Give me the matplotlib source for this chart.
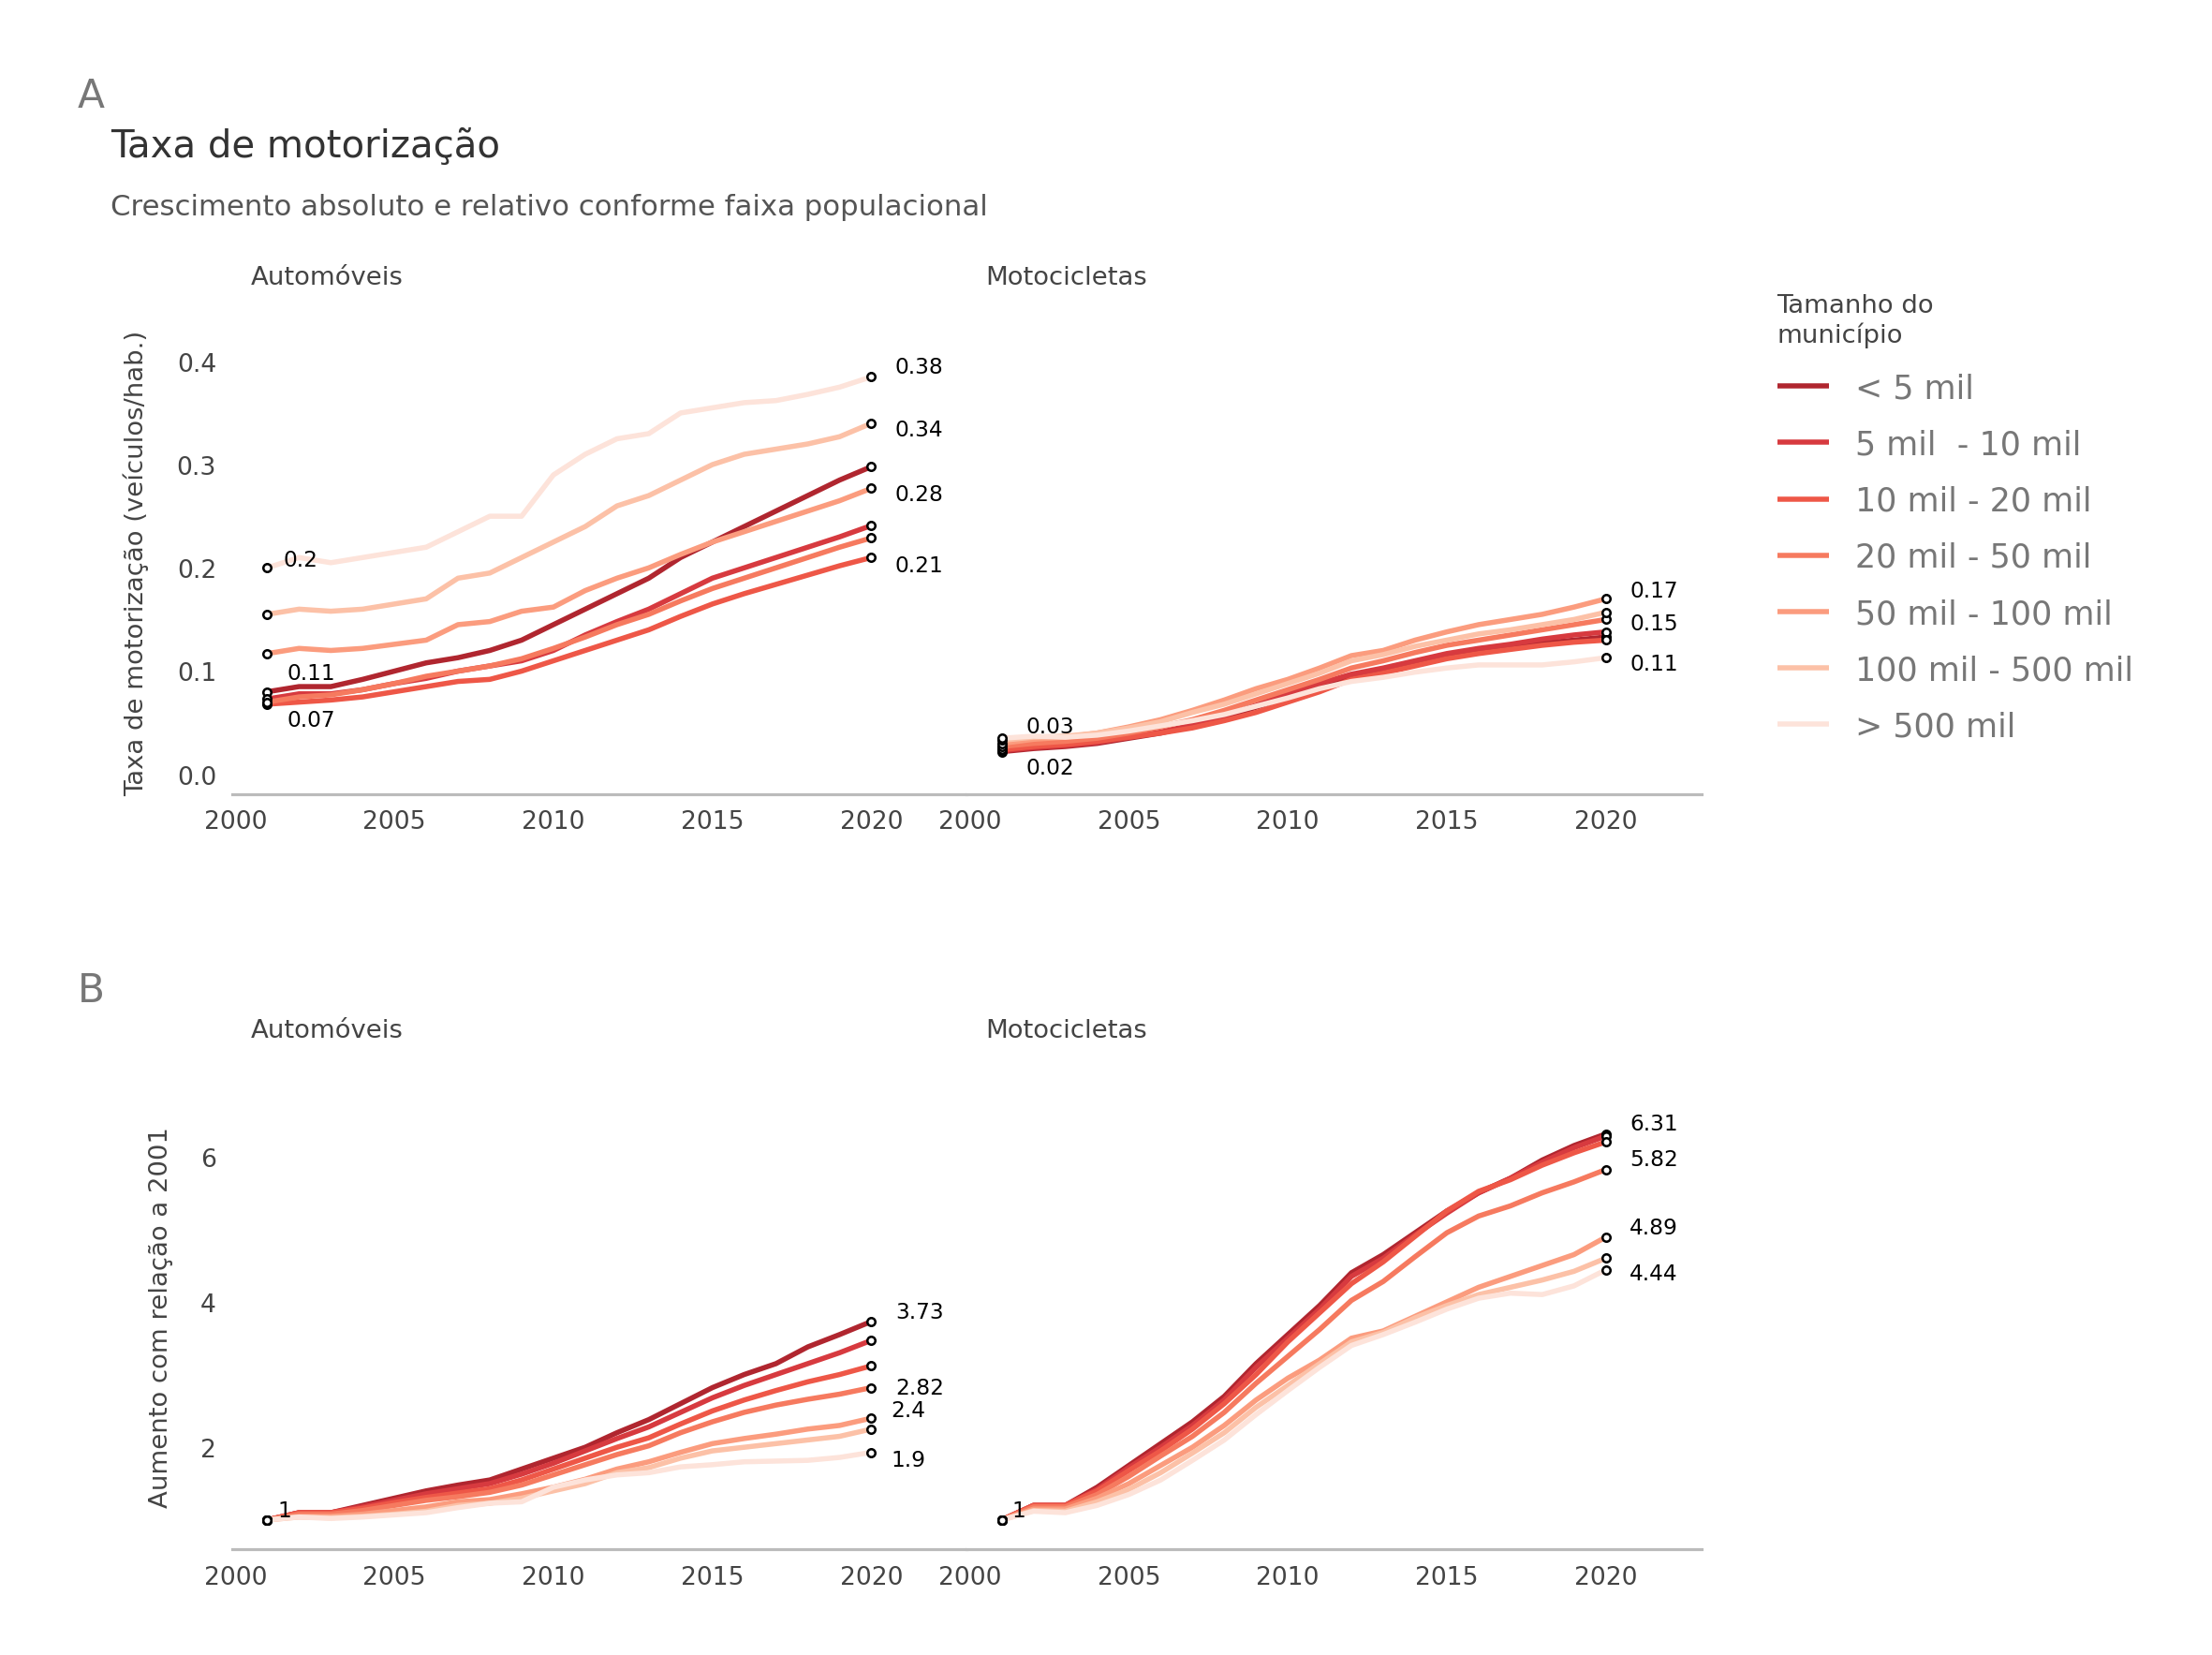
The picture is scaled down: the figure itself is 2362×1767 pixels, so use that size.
import matplotlib.pyplot as plt

years = list(range(2001, 2021))
groups = ["< 5 mil", "5 mil  - 10 mil", "10 mil - 20 mil", "20 mil - 50 mil",
          "50 mil - 100 mil", "100 mil - 500 mil", "> 500 mil"]
colors = ["#b0262f", "#d73a3f", "#ee5747", "#f67a5f", "#fb9c7e", "#fcc1a7", "#fde3da"]

# taxa de motorização - automóveis
auto_rate = [
    [0.08, 0.085, 0.085, 0.092, 0.1, 0.108, 0.113, 0.12, 0.13, 0.145, 0.16, 0.175, 0.19, 0.21, 0.225, 0.24, 0.255, 0.27, 0.285, 0.298],
    [0.073, 0.078, 0.078, 0.082, 0.088, 0.093, 0.1, 0.105, 0.11, 0.12, 0.135, 0.148, 0.16, 0.175, 0.19, 0.2, 0.21, 0.22, 0.23, 0.241],
    [0.068, 0.07, 0.072, 0.075, 0.08, 0.085, 0.09, 0.092, 0.1, 0.11, 0.12, 0.13, 0.14, 0.153, 0.165, 0.175, 0.184, 0.193, 0.202, 0.21],
    [0.07, 0.075, 0.077, 0.082, 0.088, 0.095, 0.1, 0.105, 0.112, 0.122, 0.133, 0.145, 0.155, 0.168, 0.18, 0.19, 0.2, 0.21, 0.22, 0.229],
    [0.117, 0.122, 0.12, 0.122, 0.126, 0.13, 0.145, 0.148, 0.158, 0.162, 0.178, 0.19, 0.2, 0.213, 0.225, 0.235, 0.245, 0.255, 0.265, 0.277],
    [0.155, 0.16, 0.158, 0.16, 0.165, 0.17, 0.19, 0.195, 0.21, 0.225, 0.24, 0.26, 0.27, 0.285, 0.3, 0.31, 0.315, 0.32, 0.327, 0.34],
    [0.2, 0.21, 0.205, 0.21, 0.215, 0.22, 0.235, 0.25, 0.25, 0.29, 0.31, 0.325, 0.33, 0.35, 0.355, 0.36, 0.362, 0.368, 0.375, 0.385],
]
# taxa de motorização - motocicletas
moto_rate = [
    [0.022, 0.025, 0.027, 0.03, 0.035, 0.04, 0.047, 0.055, 0.065, 0.075, 0.085, 0.095, 0.1, 0.107, 0.113, 0.118, 0.122, 0.127, 0.13, 0.133],
    [0.023, 0.026, 0.028, 0.031, 0.036, 0.041, 0.048, 0.057, 0.067, 0.078, 0.088, 0.097, 0.103, 0.11, 0.117, 0.122, 0.126, 0.131, 0.135, 0.138],
    [0.024, 0.027, 0.029, 0.032, 0.036, 0.04, 0.045, 0.052, 0.06, 0.07, 0.08, 0.092, 0.098, 0.105, 0.112, 0.117, 0.121, 0.125, 0.128, 0.13],
    [0.027, 0.03, 0.032, 0.035, 0.04, 0.046, 0.053, 0.062, 0.072, 0.082, 0.092, 0.103, 0.11, 0.118, 0.125, 0.13, 0.135, 0.14, 0.145, 0.15],
    [0.03, 0.034, 0.036, 0.04, 0.046, 0.053, 0.062, 0.072, 0.083, 0.092, 0.103, 0.115, 0.12, 0.13, 0.138, 0.145, 0.15, 0.155, 0.162, 0.17],
    [0.033, 0.036, 0.037, 0.04, 0.045, 0.051, 0.06, 0.068, 0.078, 0.088, 0.098, 0.11, 0.116, 0.124, 0.13, 0.136, 0.14, 0.145, 0.15, 0.157],
    [0.035, 0.037, 0.036, 0.038, 0.042, 0.047, 0.052, 0.058, 0.066, 0.074, 0.083, 0.09, 0.094, 0.099, 0.103, 0.106, 0.106, 0.106, 0.109, 0.113],
]
# aumento relativo a 2001 - automóveis
auto_rel = [
    [1, 1.1, 1.1, 1.2, 1.3, 1.4, 1.48, 1.55, 1.7, 1.85, 2.0, 2.2, 2.38, 2.6, 2.82, 3.0, 3.15, 3.38, 3.55, 3.73],
    [1, 1.1, 1.1, 1.18, 1.27, 1.36, 1.43, 1.5, 1.63, 1.78, 1.95, 2.12, 2.28, 2.48, 2.68, 2.85, 3.0, 3.15, 3.3, 3.47],
    [1, 1.1, 1.1, 1.16, 1.24, 1.31, 1.37, 1.43, 1.55, 1.7, 1.85, 2.0, 2.13, 2.32, 2.5, 2.65, 2.78, 2.9, 3.0, 3.12],
    [1, 1.08, 1.08, 1.13, 1.2, 1.27, 1.32, 1.38, 1.48, 1.62, 1.76, 1.9, 2.02, 2.2, 2.35, 2.48, 2.58, 2.66, 2.73, 2.82],
    [1, 1.05, 1.05, 1.08, 1.13, 1.18, 1.25, 1.28, 1.36, 1.45, 1.56, 1.7, 1.8, 1.93, 2.05, 2.12, 2.18, 2.25, 2.3, 2.4],
    [1, 1.04, 1.03, 1.05, 1.08, 1.12, 1.2, 1.23, 1.3, 1.4, 1.5, 1.65, 1.72, 1.85, 1.95, 2.0, 2.05, 2.1, 2.15, 2.25],
    [1, 1.04, 1.02, 1.04, 1.07, 1.1, 1.17, 1.23, 1.25, 1.45, 1.55, 1.62, 1.65, 1.73, 1.76, 1.8, 1.81, 1.82, 1.86, 1.93],
]
# aumento relativo a 2001 - motocicletas
moto_rel = [
    [1, 1.2, 1.2, 1.45, 1.75, 2.05, 2.35, 2.7, 3.15, 3.55, 3.95, 4.4, 4.65, 4.95, 5.25, 5.5, 5.7, 5.95, 6.15, 6.31],
    [1, 1.2, 1.2, 1.42, 1.72, 2.0, 2.3, 2.65, 3.1, 3.5, 3.9, 4.35, 4.6, 4.92, 5.22, 5.5, 5.7, 5.92, 6.12, 6.28],
    [1, 1.2, 1.2, 1.4, 1.68, 1.95, 2.25, 2.6, 3.0, 3.45, 3.85, 4.25, 4.55, 4.9, 5.25, 5.52, 5.68, 5.88, 6.05, 6.2],
    [1, 1.18, 1.18, 1.35, 1.6, 1.88, 2.15, 2.48, 2.88, 3.25, 3.62, 4.02, 4.28, 4.62, 4.95, 5.18, 5.32, 5.5, 5.65, 5.82],
    [1, 1.15, 1.15, 1.3, 1.5, 1.75, 2.0, 2.3, 2.65, 2.95, 3.2, 3.5, 3.6, 3.8, 4.0, 4.2, 4.35, 4.5, 4.65, 4.89],
    [1, 1.13, 1.12, 1.25, 1.42, 1.65, 1.92, 2.2, 2.55, 2.85, 3.15, 3.45, 3.58, 3.78, 3.95, 4.1, 4.2, 4.3, 4.42, 4.6],
    [1, 1.12, 1.1, 1.2, 1.35, 1.55, 1.82, 2.1, 2.45, 2.78, 3.1, 3.4, 3.55, 3.72, 3.9, 4.05, 4.12, 4.1, 4.22, 4.44],
]

# value labels: (year, value, text, dx, dy in points)
labels_auto_rate = [(2001, 0.2, "0.2", 8, 4), (2001, 0.117, "0.11", 10, -10), (2001, 0.07, "0.07", 10, -9),
                    (2020, 0.385, "0.38", 12, 5), (2020, 0.34, "0.34", 12, -3), (2020, 0.277, "0.28", 12, -3),
                    (2020, 0.21, "0.21", 12, -4)]
labels_moto_rate = [(2001, 0.035, "0.03", 12, 6), (2001, 0.022, "0.02", 12, -8),
                    (2020, 0.17, "0.17", 12, 4), (2020, 0.15, "0.15", 12, -2), (2020, 0.113, "0.11", 12, -3)]
labels_auto_rel = [(2001, 1, "1", 5, 5), (2020, 3.73, "3.73", 12, 5), (2020, 2.82, "2.82", 12, 0),
                   (2020, 2.4, "2.4", 10, 4), (2020, 1.93, "1.9", 10, -4)]
labels_moto_rel = [(2001, 1, "1", 5, 5), (2020, 6.31, "6.31", 12, 5), (2020, 5.82, "5.82", 12, 5),
                   (2020, 4.89, "4.89", 12, 5), (2020, 4.44, "4.44", 12, -2)]

fig = plt.figure(figsize=(15.5, 11.6), dpi=152.4)
fig.patch.set_facecolor("white")


def draw_panel(ax, data, labels, facet, ylim, yticks, ylabel=None):
    for vals, col, name in zip(data, colors, groups):
        ax.plot(years, vals, color=col, lw=2.6, label=name, solid_capstyle="butt")
        ax.plot([years[0], years[-1]], [vals[0], vals[-1]], "o", ms=4, mfc="white",
                mec="black", mew=1.2, zorder=5)
    for x, y, t, dx, dy in labels:
        ax.annotate(t, (x, y), xytext=(dx, dy), textcoords="offset points",
                    fontsize=11, color="black", va="center")
    ax.set_xlim(1999.9, 2023)
    ax.set_ylim(*ylim)
    ax.set_xticks([2000, 2005, 2010, 2015, 2020])
    ax.set_yticks(yticks)
    for s in ["top", "left", "right"]:
        ax.spines[s].set_visible(False)
    ax.spines["bottom"].set_color("#bbbbbb")
    ax.spines["bottom"].set_linewidth(1.5)
    ax.tick_params(length=0, labelsize=12.5, labelcolor="#444444", pad=8)
    ax.text(0.025, 1.1, facet, transform=ax.transAxes, fontsize=13, color="#444444")
    if ylabel:
        ax.set_ylabel(ylabel, fontsize=13, color="#444444", labelpad=14)
    else:
        ax.set_yticklabels([])


x0, w = 0.105, 0.332
ax1 = fig.add_axes([x0, 0.52, w, 0.28])
ax2 = fig.add_axes([x0 + w, 0.52, w, 0.28])
ax3 = fig.add_axes([x0, 0.064, w, 0.281])
ax4 = fig.add_axes([x0 + w, 0.064, w, 0.281])

draw_panel(ax1, auto_rate, labels_auto_rate, "Automóveis", (-0.019, 0.43),
           [0.0, 0.1, 0.2, 0.3, 0.4], "Taxa de motorização (veículos/hab.)")
draw_panel(ax2, moto_rate, labels_moto_rate, "Motocicletas", (-0.019, 0.43), [0.0, 0.1, 0.2, 0.3, 0.4])
draw_panel(ax3, auto_rel, labels_auto_rel, "Automóveis", (0.6, 7.0), [2, 4, 6],
           "Aumento com relação a 2001")
draw_panel(ax4, moto_rel, labels_moto_rel, "Motocicletas", (0.6, 7.0), [2, 4, 6])
ax1.set_yticklabels(["0.0", "0.1", "0.2", "0.3", "0.4"])

fig.text(0.035, 0.935, "A", fontsize=20, color="#777777")
fig.text(0.035, 0.395, "B", fontsize=20, color="#777777")
fig.text(0.05, 0.905, "Taxa de motorização", fontsize=19, color="#333333")
fig.text(0.05, 0.87, "Crescimento absoluto e relativo conforme faixa populacional",
         fontsize=14.5, color="#555555")

handles, lbls = ax1.get_legend_handles_labels()
leg = fig.legend(handles[::2][:0] or handles, lbls, loc="upper left", bbox_to_anchor=(0.79, 0.84),
                 frameon=False, fontsize=16.5, title="Tamanho do\nmunicípio",
                 title_fontsize=13, handlelength=1.6, labelspacing=0.75, alignment="left")
for t in leg.get_texts():
    t.set_color("#777777")
leg.get_title().set_color("#444444")

fig.savefig("out.png", dpi=152.4, facecolor="white")
